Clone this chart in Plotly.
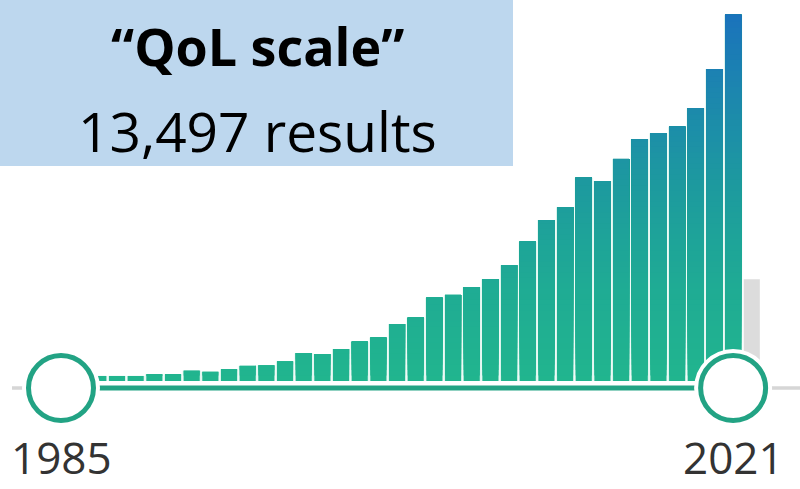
import plotly.graph_objects as go

# ---- data ----
years = list(range(1985, 2022))
counts = [14, 14, 18, 18, 18, 24, 24, 37, 33, 42, 54, 56, 70, 99, 96, 114,
          140, 155, 203, 226, 297, 307, 334, 363, 413, 497, 574, 620, 725,
          713, 792, 862, 884, 907, 973, 1113, 1306]
partial_year = [2022]
partial_count = [363]
range_labels = ["1985", "2021"]
range_years = [1985, 2021]
title_text = "“QoL scale”"
subtitle_text = "13,497 results"

# ---- geometry (pixels -> axes) ----
W, H = 800, 489
px_per_year = 18.67
x0_px = 61.0
base_px = 381.0
cnt_per_px = 3.567
x_range = [1985 - x0_px / px_per_year, 1985 + (W - x0_px) / px_per_year]
y_range = [-(H - base_px) * cnt_per_px, base_px * cnt_per_px]
track_y = -(388 - base_px) * cnt_per_px

stops = [(0.0, (33, 181, 142)), (0.25, (31, 171, 148)), (0.5, (29, 155, 158)),
         (0.75, (28, 135, 174)), (1.0, (26, 111, 190))]


def grad(f):
    for (a, ca), (b, cb) in zip(stops[:-1], stops[1:]):
        if f <= b:
            t = (f - a) / (b - a)
            c = [round(ca[i] + (cb[i] - ca[i]) * t) for i in range(3)]
            return f"rgb({c[0]},{c[1]},{c[2]})"
    c = stops[-1][1]
    return f"rgb({c[0]},{c[1]},{c[2]})"


fig = go.Figure()

# grey track
fig.add_trace(go.Scatter(x=[x_range[0] + 12 / px_per_year, x_range[1]], y=[track_y, track_y],
                         mode="lines", line=dict(color="#d6d6d6", width=3.5),
                         hoverinfo="skip", showlegend=False))

bw = 0.86
# light mint under-layer that shows in gaps
fig.add_trace(go.Bar(x=years, y=counts, width=0.97, marker=dict(color="#d9f4ec", line=dict(width=0)),
                     hoverinfo="skip", showlegend=False))
# partial year (grey)
fig.add_trace(go.Bar(x=partial_year, y=partial_count, width=bw,
                     marker=dict(color="#dcdcdc", line=dict(width=0)),
                     hoverinfo="skip", showlegend=False))

# gradient bars drawn as overlaid bands
N = 70
band = y_range[1] / N
for k in range(N):
    b = k * band
    xs = [yr for yr, v in zip(years, counts) if v > b]
    ys = [v - b for v in counts if v > b]
    if not xs:
        break
    fig.add_trace(go.Bar(x=xs, y=ys, base=b, width=bw,
                         marker=dict(color=grad((k + 0.5) / N), line=dict(width=0)),
                         hoverinfo="skip", showlegend=False))

# green selected range line
fig.add_trace(go.Scatter(x=range_years, y=[track_y, track_y], mode="lines",
                         line=dict(color="#22a384", width=5), hoverinfo="skip", showlegend=False))
# white halo + handles
fig.add_trace(go.Scatter(x=range_years, y=[track_y, track_y], mode="markers",
                         marker=dict(size=78, color="white", line=dict(width=0)),
                         hoverinfo="skip", showlegend=False))
fig.add_trace(go.Scatter(x=range_years, y=[track_y, track_y], mode="markers",
                         marker=dict(size=65, color="white", line=dict(color="#22a384", width=5)),
                         hoverinfo="skip", showlegend=False))

# year labels
for lab, yr in zip(range_labels, range_years):
    fig.add_annotation(x=yr, y=0, xref="x", yref="paper", text=lab,
                       showarrow=False, xanchor="center", yanchor="bottom",
                       font=dict(family="Open Sans", size=44, color="#333333"))

# title box
fig.add_shape(type="rect", xref="paper", yref="paper", x0=0, x1=513 / W, y0=1 - 166 / H, y1=1,
              fillcolor="#bdd7ee", line=dict(width=0), layer="above")
fig.add_annotation(x=257 / W, y=1 - 45 / H, xref="paper", yref="paper", text=f"<b>{title_text}</b>",
                   showarrow=False, xanchor="center", yanchor="middle",
                   font=dict(family="Open Sans", size=52, color="black"))
fig.add_annotation(x=257 / W, y=1 - 130 / H, xref="paper", yref="paper", text=subtitle_text,
                   showarrow=False, xanchor="center", yanchor="middle",
                   font=dict(family="Open Sans", size=55, color="black"))

fig.update_layout(width=W, height=H, margin=dict(l=0, r=0, t=0, b=0),
                  paper_bgcolor="white", plot_bgcolor="white", barmode="overlay",
                  xaxis=dict(range=x_range, visible=False, fixedrange=True),
                  yaxis=dict(range=y_range, visible=False, fixedrange=True),
                  showlegend=False)
fig.write_html("out.html", config={"displayModeBar": False},
               post_script="document.body.style.margin='0';document.body.style.overflow='hidden';")
